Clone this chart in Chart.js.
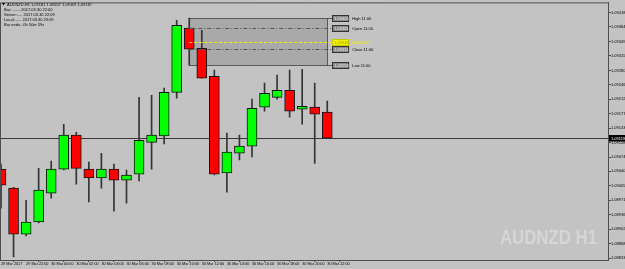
<!DOCTYPE html>
<html>
<head>
<meta charset="utf-8">
<script src="https://cdn.jsdelivr.net/npm/chart.js@4"></script>
<style>
  html, body { margin: 0; padding: 0; background: #c3c3c3; overflow: hidden; }
  canvas { display: block; }
</style>
</head>
<body>
<canvas id="chart" width="625" height="269"></canvas>
<script>
// AUDNZD H1, 29 Mar 20:00 .. 30 Mar 22:00
const symbol = "AUDNZD,H1";
const watermark = "AUDNZD H1";
const hours = ["20:00", "21:00", "22:00", "23:00", "00:00", "01:00", "02:00", "03:00", "04:00",
  "05:00", "06:00", "07:00", "08:00", "09:00", "10:00", "11:00", "12:00", "13:00", "14:00",
  "15:00", "16:00", "17:00", "18:00", "19:00", "20:00", "21:00", "22:00"];
const opens = [1.09045, 1.09000, 1.08890, 1.08919, 1.08988, 1.09045, 1.09126, 1.09045, 1.09024,
  1.09045, 1.09019, 1.09033, 1.09109, 1.09124, 1.09228, 1.09381, 1.09333, 1.09266, 1.09036,
  1.09083, 1.09100, 1.09193, 1.09216, 1.09233, 1.09188, 1.09193, 1.09181];
const highs = [1.09057, 1.09002, 1.08971, 1.09047, 1.09064, 1.09152, 1.09133, 1.09062, 1.09083,
  1.09057, 1.09043, 1.09216, 1.09221, 1.09238, 1.09400, 1.09405, 1.09376, 1.09281, 1.09131,
  1.09126, 1.09212, 1.09250, 1.09269, 1.09281, 1.09283, 1.09250, 1.09207];
const lows = [1.08952, 1.08836, 1.08886, 1.08917, 1.08976, 1.09043, 1.09009, 1.08967, 1.09000,
  1.08945, 1.08964, 1.09017, 1.09045, 1.09105, 1.09214, 1.09293, 1.09262, 1.09031, 1.08990,
  1.09067, 1.09074, 1.09183, 1.09212, 1.09169, 1.09152, 1.09059, 1.09119];
const closes = [1.09007, 1.08890, 1.08919, 1.08995, 1.09045, 1.09126, 1.09047, 1.09024, 1.09045,
  1.09019, 1.09031, 1.09114, 1.09126, 1.09228, 1.09388, 1.09331, 1.09262, 1.09033, 1.09086,
  1.09100, 1.09190, 1.09226, 1.09233, 1.09183, 1.09195, 1.09176, 1.09119];

const timeTicks = [0, 2, 4, 6, 8, 10, 12, 14, 16, 18, 20, 22, 24, 26];
const timeLabels = ["29 Mar 2017", "29 Mar 22:00", "30 Mar 00:00", "30 Mar 02:00", "30 Mar 04:00",
  "30 Mar 06:00", "30 Mar 08:00", "30 Mar 10:00", "30 Mar 12:00", "30 Mar 14:00", "30 Mar 16:00",
  "30 Mar 18:00", "30 Mar 20:00", "30 Mar 22:00"];
const priceTicks = [1.09418, 1.09384, 1.09349, 1.09315, 1.09280, 1.09246, 1.09212, 1.09177,
  1.09143, 1.09108, 1.09074, 1.09040, 1.09005, 1.08971, 1.08936, 1.08902, 1.08868, 1.08833];

const infoLines = ["Bar:........ 2017.03.30 22:00", "Server:..... 2017.03.30 22:09",
  "Local:...... 2017.03.30 23:09", "Bar ends.. 0h 50m 59s"];

// the 11:00 bar is marked with a high/low box
const boxBar = 15;

const colors = {
  up: "#00ff00",
  down: "#ff0000",
  outline: "#141414",
  wick: "#343434",
  axis: "#4e4e4e",
  text: "#000000",
  box: "#a9a9a9",
  mid: "#f2f200",
  watermark: "#d6d6d6",
};
const tiny = "'Liberation Sans', Arial, sans-serif";

const last = closes.length - 1;
const isUp = opens.map((o, i) => closes[i] >= o);

const overlay = {
  id: "overlay",
  beforeDatasetsDraw(chart) {
    const { ctx, chartArea: a, scales: { x, y } } = chart;
    ctx.save();

    // watermark, a bit condensed like the terminal font
    ctx.save();
    ctx.translate(a.right - 11, a.bottom - 16);
    ctx.scale(0.84, 1);
    ctx.fillStyle = colors.watermark;
    ctx.font = "bold 20px 'Liberation Sans', Arial, sans-serif";
    ctx.textAlign = "right";
    ctx.textBaseline = "alphabetic";
    ctx.fillText(watermark, 0, 0);
    ctx.restore();

    // range box of the 11:00 bar
    const bx0 = x.getPixelForValue(boxBar);
    const bx1 = x.getPixelForValue(last);
    const yH = y.getPixelForValue(highs[boxBar]);
    const yL = y.getPixelForValue(lows[boxBar]);
    ctx.fillStyle = colors.box;
    ctx.fillRect(bx0, yH, bx1 - bx0, yL - yH);
    ctx.strokeStyle = "#585858";
    ctx.lineWidth = 1;
    ctx.strokeRect(Math.round(bx0) + 0.5, Math.round(yH) + 0.5, Math.round(bx1 - bx0), Math.round(yL - yH));

    // current price line
    const yc = Math.round(y.getPixelForValue(closes[last])) + 0.5;
    ctx.strokeStyle = "#3a3a3a";
    ctx.beginPath();
    ctx.moveTo(a.left, yc);
    ctx.lineTo(a.right, yc);
    ctx.stroke();
    ctx.restore();
  },
  afterDatasetsDraw(chart) {
    const { ctx, chartArea: a, scales: { x, y } } = chart;
    ctx.save();
    const bx0 = x.getPixelForValue(boxBar);
    const bx1 = x.getPixelForValue(last);
    const tagX = bx1 + 5;
    const mid = (highs[boxBar] + lows[boxBar]) / 2;
    const levels = [
      { name: "High", v: highs[boxBar], dash: [], color: "#585858" },
      { name: "Open", v: opens[boxBar], dash: [4, 2, 1, 2], color: "#555555" },
      { name: "Mid", v: mid, dash: [3, 2], color: colors.mid },
      { name: "Close", v: closes[boxBar], dash: [4, 2, 1, 2], color: "#555555" },
      { name: "Low", v: lows[boxBar], dash: [], color: "#585858" },
    ];
    ctx.lineWidth = 1;
    ctx.font = "4px " + tiny;
    ctx.textBaseline = "middle";
    for (const lv of levels) {
      const py = Math.round(y.getPixelForValue(lv.v)) + 0.5;
      ctx.setLineDash(lv.dash);
      ctx.strokeStyle = lv.color;
      ctx.beginPath();
      ctx.moveTo(lv.dash.length ? bx0 : bx1, py);
      ctx.lineTo(tagX, py);
      ctx.stroke();
      ctx.setLineDash([]);
      // price tag
      const isMid = lv.name === "Mid";
      ctx.fillStyle = isMid ? colors.mid : "#8a8a8a";
      ctx.fillRect(tagX, py - 3.5, 17, 6);
      ctx.strokeStyle = isMid ? "#c8c800" : "#333333";
      ctx.strokeRect(Math.round(tagX) + 0.5, py - 3, 16, 6);
      ctx.fillStyle = isMid ? "#9a9a00" : "#eeeeee";
      ctx.textAlign = "left";
      ctx.fillText(lv.v.toFixed(5), tagX + 2, py);
      ctx.fillStyle = isMid ? colors.mid : colors.text;
      ctx.fillText(lv.name + " " + hours[boxBar], tagX + 20, py);
    }

    // current price tag on the axis
    const yc = Math.round(y.getPixelForValue(closes[last])) + 0.5;
    ctx.fillStyle = "#000000";
    ctx.fillRect(a.right + 1, yc - 3.5, 18, 6.5);
    ctx.fillStyle = "#ffffff";
    ctx.fillText(closes[last].toFixed(5), a.right + 3, yc);

    // frame top and left
    ctx.strokeStyle = colors.axis;
    ctx.beginPath();
    ctx.moveTo(a.left + 0.5, a.bottom);
    ctx.lineTo(a.left + 0.5, a.top + 0.5);
    ctx.lineTo(a.right, a.top + 0.5);
    ctx.stroke();

    // info header
    ctx.fillStyle = colors.text;
    ctx.beginPath();
    ctx.moveTo(2, 3);
    ctx.lineTo(5, 3);
    ctx.lineTo(3.5, 5.5);
    ctx.fill();
    ctx.font = "4px " + tiny;
    const head = symbol + " " + [opens[last], highs[last], lows[last], closes[last]]
      .map((v) => v.toFixed(5)).join(" ");
    ctx.fillText(head, 7, 4.5);
    infoLines.forEach((t, i) => ctx.fillText(t, 4, 10 + i * 4.8));
    ctx.restore();
  },
};

new Chart(document.getElementById("chart"), {
  type: "bar",
  plugins: [overlay],
  data: {
    datasets: [
      {
        label: "wick",
        data: hours.map((h, i) => ({ x: i, y: [lows[i], highs[i]] })),
        backgroundColor: colors.wick,
        borderWidth: 0,
        barThickness: 1,
        grouped: false,
        order: 2,
      },
      {
        label: "body",
        data: hours.map((h, i) => ({ x: i, y: [opens[i], closes[i]] })),
        backgroundColor: isUp.map((u) => (u ? colors.up : colors.down)),
        borderColor: colors.outline,
        borderWidth: 1,
        borderSkipped: false,
        barThickness: 10,
        grouped: false,
        order: 1,
      },
    ],
  },
  options: {
    responsive: false,
    animation: false,
    devicePixelRatio: 1,
    layout: { padding: { top: 2, left: 0, right: 0, bottom: 0 } },
    plugins: { legend: { display: false }, tooltip: { enabled: false } },
    scales: {
      x: {
        type: "linear",
        position: "bottom",
        min: -0.08,
        max: 48.37,
        offset: false,
        afterBuildTicks: (s) => { s.ticks = timeTicks.map((v) => ({ value: v })); },
        afterFit: (s) => { s.height = 9; },
        ticks: {
          autoSkip: false,
          maxRotation: 0,
          align: "start",
          padding: 0,
          color: colors.text,
          font: { family: tiny, size: 3.8 },
          callback: (v) => timeLabels[timeTicks.indexOf(v)],
        },
        grid: { drawOnChartArea: false, tickLength: 2, color: colors.axis },
        border: { display: true, color: colors.axis, width: 1 },
      },
      y: {
        type: "linear",
        position: "right",
        min: 1.088285,
        max: 1.094425,
        afterBuildTicks: (s) => { s.ticks = priceTicks.map((v) => ({ value: v })); },
        afterFit: (s) => { s.width = 17; },
        ticks: {
          padding: 0,
          color: colors.text,
          font: { family: tiny, size: 4 },
          callback: (v) => v.toFixed(5),
        },
        grid: { drawOnChartArea: false, tickLength: 3, color: colors.axis },
        border: { display: true, color: colors.axis, width: 1 },
      },
    },
  },
});
</script>
</body>
</html>
